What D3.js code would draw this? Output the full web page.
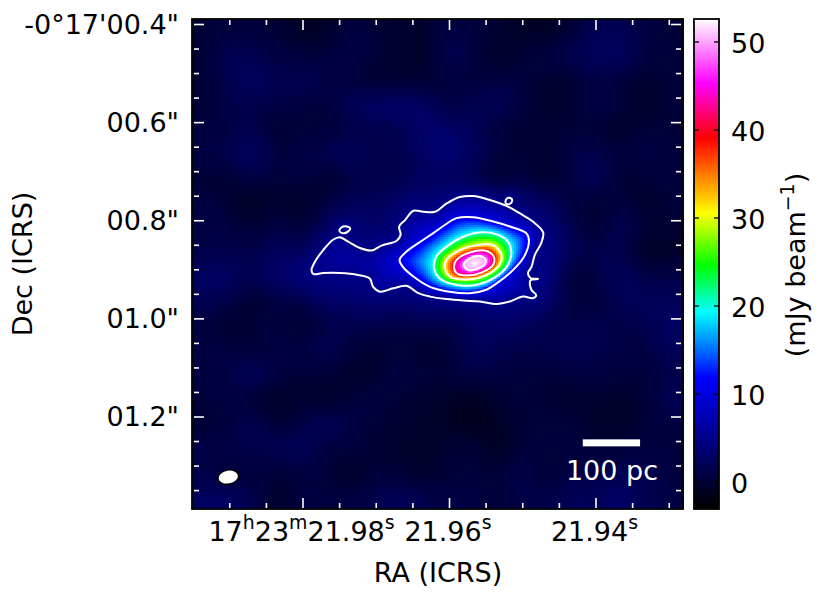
<!DOCTYPE html>
<html><head><meta charset="utf-8">
<script src="https://cdn.jsdelivr.net/npm/d3@7/dist/d3.min.js"></script>
<style>html,body{margin:0;padding:0;background:#fff}svg{display:block}
text{font-family:"DejaVu Sans",sans-serif;fill:#000}</style></head><body>
<svg id="c" width="830" height="601"></svg>
<script>
// ---- axis data ----
const raMajor = [21.98, 21.96, 21.94];
const raMajorLabels = [["17","h","23","m","21.98","s"], ["21.96","s"], ["21.94","s"]];
const raMinor = [21.99,21.985,21.975,21.97,21.965,21.955,21.95,21.945,21.935,21.93,21.925];
const decMajor = [0.4, 0.6, 0.8, 1.0, 1.2];
const decLabels = ["-0°17'00.4\"", "00.6\"", "00.8\"", "01.0\"", "01.2\""];
const decMinor = [0.45,0.5,0.55,0.65,0.7,0.75,0.85,0.9,0.95,1.05,1.1,1.15,1.25,1.3,1.35];
const cbTicks = [0,10,20,30,40,50];
// ---- colour map ----
const cmapValues = [-3, 11.8, 19.3, 24.6, 30.5, 39, 45.3, 52.6];
const cmapColors = ["#000000","#0000ff","#00ffff","#00ff00","#ffff00","#ff0000","#ff00ff","#ffffff"];
// ---- contour levels (mJy/beam) and traces; [east-west, north-south] offset in mas from the map reference ----
const levels = [5, 10, 20, 30, 40, 50];
const peakFlux = 52.6;
const peakPos = [377, 170];
const c5main = [[44,184],[51,167],[68,143],[88,122],[102,117],[119,126],[143,139],[167,144],[187,134],[218,124],[226,112],[223,95],[235,82],[252,63],[272,65],[296,65],[320,48],[347,35],[374,33],[408,41],[442,53],[469,68],[496,85],[517,107],[513,129],[500,153],[493,178],[486,190],[491,200],[507,202],[491,205],[493,224],[503,235],[496,241],[476,238],[449,248],[422,253],[388,248],[354,246],[320,243],[286,238],[262,231],[238,216],[211,221],[184,228],[170,218],[163,201],[139,194],[102,190],[68,190],[48,192]];
const c5loopA = [[101,104],[105,97],[116,95],[123,99],[119,105],[109,109]];
const c5loopB = [[440,45],[443,38],[450,37],[454,42],[449,49],[442,49]];
const c10 = [[224,163],[238,146],[262,129],[292,109],[316,92],[340,78],[374,76],[415,85],[449,95],[483,109],[488,126],[476,160],[449,190],[422,211],[401,224],[367,231],[326,228],[286,218],[252,197],[231,178]];
const c20 = [[294,178],[299,156],[320,136],[354,116],[391,107],[425,112],[445,126],[452,150],[442,178],[415,201],[381,214],[340,214],[306,201]];
const c30 = [[316,178],[320,162],[347,143],[381,133],[415,133],[432,153],[428,173],[401,194],[360,203],[326,197]];
const c40 = [[335,177],[340,163],[367,148],[398,144],[416,156],[415,173],[391,189],[360,195],[340,190]];
const c50 = [[355,173],[367,160],[384,155],[398,160],[399,170],[381,182],[364,184]];
// ---- background noise map, read by eye on a 20x20 mesh (mJy/beam) ----
const bgGrid = [
[0,.5,.5,0,-1,-1,1,0,-.5,-.5,1,.5,0,-1,-1,0,2,1.5,1,0],
[0,2.5,1.5,1,.5,.5,1.5,.5,0,-1,2.5,1,-1.5,.5,1,2.5,2.5,3.5,.5,.5],
[0,1.5,3.5,1,2.5,1,.5,-1,-.5,-.5,.5,0,1,.5,-.5,-.5,1,0,-.5,.5],
[0,1.5,1,1.5,.5,.5,2.5,3.5,4,3,.5,2,2.5,1,-1,0,1.5,1,-1.5,.5],
[.5,.5,2,-1,.5,-.5,1,1,1.5,3.5,3,2,0,-.5,.5,0,0,-1.5,1,0],
[1,2,3.5,.5,1,2.5,3,1.5,1,3.5,4,3,.5,.5,-.5,1.5,1.5,1,1,.5],
[0,-.5,1.5,0,1.5,-1.5,1,1,1.5,2,1.5,1,-1.5,.5,-1,1,3,-1,.5,.5],
[1,0,-2,0,-1.5,1,2,2,3,4,4,4,4,3,3,.5,-.5,1,-1,.5],
[1,1,0,1.5,0,2,3,3,3,3,4,4,4,4,3,1.5,-1,3,0,0],
[1,1.5,1,2.5,1.5,3,4,4,5,5,5,5,5,5,4.5,2,1.5,1.5,-1.5,-1],
[3,3,2,4,4,5,5,5,5,5,5,5,5,5,5,-1,1,3,1,1.5],
[2,1.5,-1,.5,1,3,3,3,3,3,3,3,3,3,3,0,.5,2,2.5,2],
[.5,-1,.5,1,-1,1,1.5,1.5,1,1.5,1,2,3,2.5,1,1.5,1.5,1,1.5,3],
[1,1,-.5,1,1,2.5,.5,-.5,.5,-1,0,3,1.5,1,1.5,2,1.5,1,.5,2.5],
[.5,1,3.5,1,0,.5,-1,-.5,1.5,.5,.5,1,.5,.5,0,.5,1,.5,.5,1],
[.5,1,-.5,-1.5,0,-1.5,.5,1,0,-.5,-.5,-1.5,0,.5,0,-.5,0,-1,0,2.5],
[-.5,.5,2.5,-.5,1,3,1,0,0,-.5,-1,-2,-.5,0,.5,.5,-1,-1,.5,.5],
[1.5,1,1.5,2,3,0,1,0,-.5,-1,.5,.5,-1.5,.5,.5,.5,.5,.5,.5,.5],
[1,0,.5,0,.5,.5,-1.5,.5,0,-1,0,.5,0,2,-.5,1,1,1.5,2,.5],
[2.5,3,1.5,-1,1,.5,1,1.5,2.5,1.5,1,1,0,1.5,1,2.5,2,3.5,1.5,1]];
// ---- annotations ----
const beam = {u:-126, v:606, major:21.5, minor:14.5, angle:-10};
const scaleBar = {u0:600, u1:717, v:529, label:"100 pc"};

// ---- scales ----
const svg = d3.select("#c");
const F = {l:192, r:683, t:19, b:509};
const X = d3.scaleLinear().domain([-200, 802.6]).range([F.l, F.r]);
const Y = d3.scaleLinear().domain([-328, 671]).range([F.t, F.b]);
const RA = d3.scaleLinear().domain([21.98, 21.94]).range([303, 596]);
const DEC = d3.scaleLinear().domain([0.4, 1.2]).range([24.5, 417]);
const CB = d3.scaleLinear().domain([0, 50]).range([482, 42]);
const cmap = d3.scaleLinear().domain(cmapValues).range(cmapColors).clamp(true);

const gMap = svg.append("g");
const line = d3.line().x(d=>X(d[0])).y(d=>Y(d[1])).curve(d3.curveCatmullRomClosed.alpha(0.5));
const contourSets = [[c5main,c5loopA,c5loopB],[c10],[c20],[c30],[c40],[c50]];

// contours, drawn and then sampled so the field agrees with the drawn lines
const gCont = svg.append("g");
const sampled = contourSets.map((set,li)=>set.map(tr=>{
  const p = gCont.append("path").attr("d",line(tr)).attr("fill","none").attr("stroke","#fff").attr("stroke-width",2).attr("stroke-linejoin","round");
  const n = p.node(), L = n.getTotalLength(), pts=[];
  for(let s=0;s<L;s+=2){const q=n.getPointAtLength(s);pts.push([q.x,q.y]);}
  return pts;
}));
function dist(set,x,y){let m=1e9;for(const pts of set)for(const q of pts){const a=q[0]-x,b=q[1]-y,d=a*a+b*b;if(d<m)m=d;}return Math.sqrt(m);}
// smooth resampling of the mesh for display (cubic B-spline)
function sp(a,b,c,d,t){const u=1-t;return (u*u*u*a+(3*t*t*t-6*t*t+4)*b+(-3*t*t*t+3*t*t+3*t+1)*c+t*t*t*d)/6;}
const cellPx = (F.r-F.l)/20, cellPy=(F.b-F.t)/20;
function g(r,c){r=Math.max(0,Math.min(19,r));c=Math.max(0,Math.min(19,c));return bgGrid[r][c];}
function bg(x,y){
  const fx=(x-F.l)/cellPx-.5, fy=(y-F.t)/cellPy-.5, c=Math.floor(fx), r=Math.floor(fy), tx=fx-c, ty=fy-r;
  const row=[-1,0,1,2].map(i=>sp(g(r+i,c-1),g(r+i,c),g(r+i,c+1),g(r+i,c+2),tx));
  return sp(row[0],row[1],row[2],row[3],ty);
}
const peakPx=[X(peakPos[0]),Y(peakPos[1])];
function field(x,y){
  let k=-1;
  for(let i=0;i<sampled.length;i++){ if(sampled[i].some(p=>d3.polygonContains(p,[x,y]))) k=i; }
  if(k<0){const d=dist(sampled[0],x,y);const b=bg(x,y);return b+(levels[0]-b)*Math.exp(-d/9);}
  const dk=dist(sampled[k],x,y);
  if(k===levels.length-1){const dp=Math.hypot(x-peakPx[0],y-peakPx[1]);return levels[k]+(peakFlux-levels[k])*dk/(dk+dp+1e-6);}
  const dn=dist(sampled[k+1],x,y);
  return levels[k]+(levels[k+1]-levels[k])*dk/(dk+dn);
}
// map cells
const step=2, cells=[];
for(let y=F.t;y<F.b;y+=step)for(let x=F.l;x<F.r;x+=step)cells.push({x,y,v:field(x+step/2,y+step/2)});
gMap.selectAll("rect").data(cells).join("rect")
  .attr("x",d=>d.x).attr("y",d=>d.y).attr("width",step).attr("height",step)
  .attr("fill",d=>cmap(d.v)).attr("shape-rendering","crispEdges");

// beam & scale bar
svg.append("ellipse").attr("cx",X(beam.u)).attr("cy",Y(beam.v))
  .attr("rx",X(beam.major)-X(0)).attr("ry",X(beam.minor)-X(0))
  .attr("transform",`rotate(${beam.angle} ${X(beam.u)} ${Y(beam.v)})`)
  .attr("fill","#fff").attr("stroke","#000").attr("stroke-width",1.5);
svg.append("rect").attr("x",X(scaleBar.u0)-1).attr("y",Y(scaleBar.v)).attr("width",X(scaleBar.u1)-X(scaleBar.u0)).attr("height",7).attr("fill","#fff");
svg.append("text").attr("x",612).attr("y",480).attr("text-anchor","middle").attr("font-size",27).style("fill","#fff").text(scaleBar.label);

// ticks
const gT = svg.append("g").attr("stroke","#fff").attr("stroke-width",1.6);
const tickX=(v,len)=>{gT.append("line").attr("x1",RA(v)).attr("x2",RA(v)).attr("y1",F.t+1).attr("y2",F.t+1+len);
  gT.append("line").attr("x1",RA(v)).attr("x2",RA(v)).attr("y1",F.b-1).attr("y2",F.b-1-len);};
const tickY=(v,len)=>{gT.append("line").attr("y1",DEC(v)).attr("y2",DEC(v)).attr("x1",F.l+2).attr("x2",F.l+2+len);
  gT.append("line").attr("y1",DEC(v)).attr("y2",DEC(v)).attr("x1",F.r-2).attr("x2",F.r-2-len);};
raMajor.forEach(v=>tickX(v,10)); raMinor.forEach(v=>tickX(v,5));
decMajor.forEach(v=>tickY(v,10)); decMinor.forEach(v=>tickY(v,5));
svg.append("rect").attr("x",F.l).attr("y",F.t).attr("width",F.r-F.l).attr("height",F.b-F.t).attr("fill","none").attr("stroke","#000").attr("stroke-width",1.8);

// tick labels
const FS=27;
decMajor.forEach((v,i)=>svg.append("text").attr("x",179).attr("y",DEC(v)+9).attr("text-anchor","end").attr("font-size",FS).text(decLabels[i]));
raMajor.forEach((v,i)=>{
  const t=svg.append("text").attr("x",RA(v)-1.5).attr("y",540.5).attr("text-anchor","middle").attr("font-size",FS);
  raMajorLabels[i].forEach(s=>{
    const sup=/^[hms]$/.test(s);
    t.append("tspan").attr("font-size",sup?FS*0.7:FS).attr("dy",sup?-FS*0.42:(t.selectAll("tspan").size()>1?FS*0.42:0)).text(s);
  });
});
svg.append("text").attr("x",438).attr("y",582).attr("text-anchor","middle").attr("font-size",FS).text("RA (ICRS)");
svg.append("text").attr("transform","translate(32,264) rotate(-90)").attr("text-anchor","middle").attr("font-size",FS).text("Dec (ICRS)");

// colour bar
const cbL=694,cbR=719;
const cbVals=d3.range(CB.invert(F.b),CB.invert(F.t),0.1);
svg.append("g").selectAll("rect").data(cbVals).join("rect")
  .attr("x",cbL).attr("width",cbR-cbL).attr("y",d=>CB(d)-1).attr("height",1.2).attr("fill",d=>cmap(d)).attr("shape-rendering","crispEdges");
svg.append("rect").attr("x",cbL).attr("y",F.t).attr("width",cbR-cbL).attr("height",F.b-F.t).attr("fill","none").attr("stroke","#000").attr("stroke-width",1.8);
cbTicks.forEach(v=>{
  [[cbL,cbL+5],[cbR,cbR-5]].forEach(a=>svg.append("line").attr("x1",a[0]).attr("x2",a[1]).attr("y1",CB(v)).attr("y2",CB(v)).attr("stroke","#000").attr("stroke-width",1.3));
  svg.append("text").attr("x",731).attr("y",CB(v)+10.5).attr("font-size",FS).text(v);
});
const cbt=svg.append("text").attr("transform","translate(805,265) rotate(-90)").attr("text-anchor","middle").attr("font-size",FS);
cbt.append("tspan").text("(mJy beam");
cbt.append("tspan").attr("font-size",FS*0.7).attr("dy",-FS*0.42).text("\u22121");
cbt.append("tspan").attr("dy",FS*0.42).text(")");
</script></body></html>
